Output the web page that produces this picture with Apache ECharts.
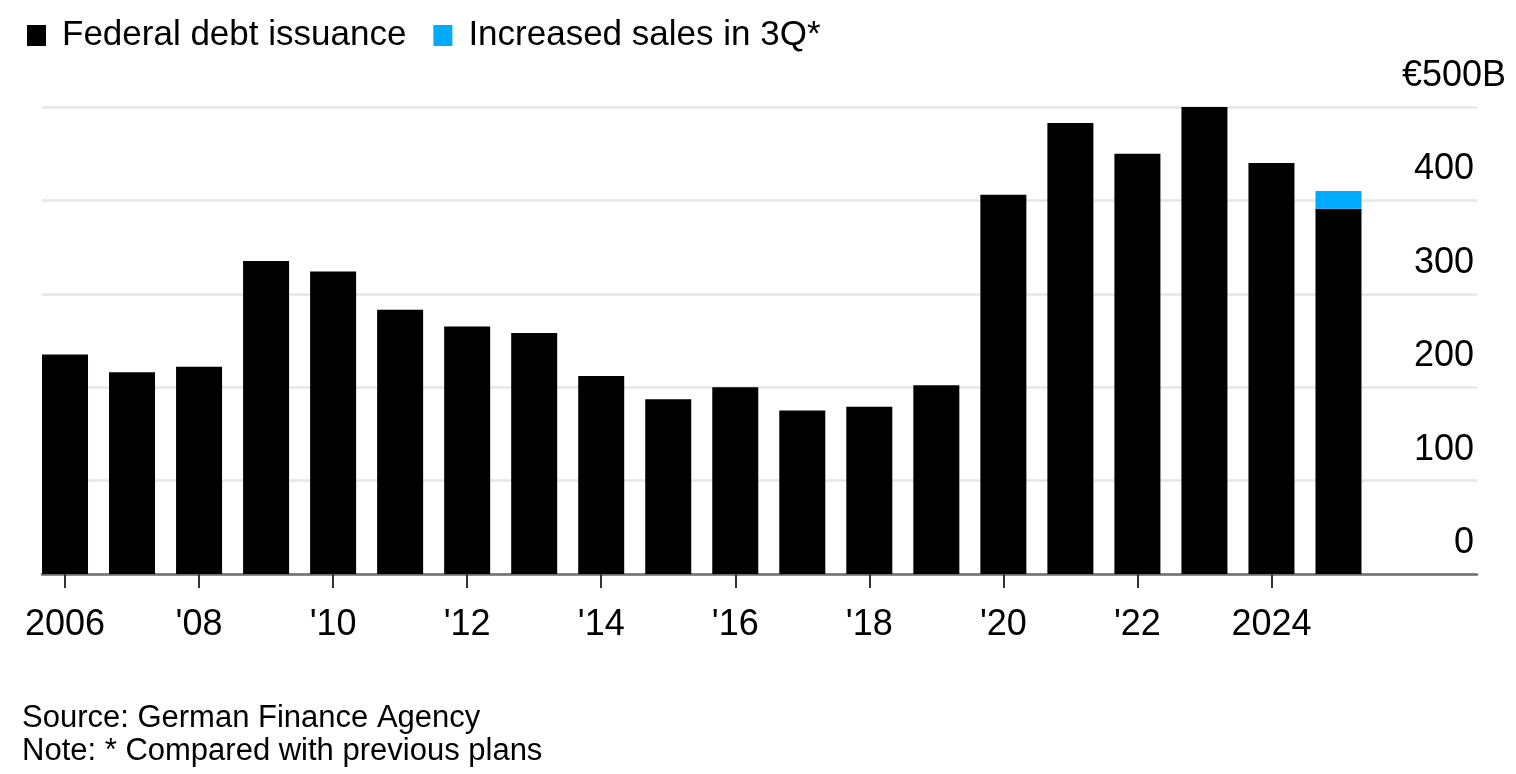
<!DOCTYPE html>
<html>
<head>
<meta charset="utf-8">
<script src="https://cdn.jsdelivr.net/npm/echarts@6/dist/echarts.min.js"></script>
<style>
html,body{margin:0;padding:0;background:#fff;}
#chart{width:1516px;height:774px;}
</style>
</head>
<body>
<div id="chart"></div>
<script>
const years = ['2006','2007','2008','2009','2010','2011','2012','2013','2014','2015','2016','2017','2018','2019','2020','2021','2022','2023','2024','2025'];
const tickLabels = {'2006':'2006','2008':"'08",'2010':"'10",'2012':"'12",'2014':"'14",'2016':"'16",'2018':"'18",'2020':"'20",'2022':"'22",'2024':'2024'};
const issuance = [235,216,222,335,324,283,265,258,212,187,200,175,179,202,406,483,450,501,440,391];
const increase3Q = [null,null,null,null,null,null,null,null,null,null,null,null,null,null,null,null,null,null,null,19];

const FONT = 'Liberation Sans, Arial, sans-serif';
const chart = echarts.init(document.getElementById('chart'));
chart.setOption({
  animation: false,
  backgroundColor: '#fff',
  textStyle: { fontFamily: FONT, color: '#000' },
  legend: {
    left: 22, top: 13,
    itemWidth: 19, itemHeight: 21, itemGap: 27,
    icon: 'rect',
    textStyle: { fontSize: 35, color: '#000', fontFamily: FONT, padding: [0, 0, 0, 11] },
    data: ['Federal debt issuance', 'Increased sales in 3Q*']
  },
  title: {
    text: 'Source: German Finance Agency\nNote: * Compared with previous plans',
    left: 17, top: 697,
    textStyle: { fontSize: 31, fontWeight: 'normal', color: '#000', lineHeight: 33, fontFamily: FONT }
  },
  grid: [
    { left: 31.5, right: 144, top: 107, bottom: 200 },
    { left: 42, right: 39, top: 107, bottom: 200 }
  ],
  xAxis: [
    {
      type: 'category', gridIndex: 0, data: years,
      axisLine: { show: false },
      axisTick: { show: true, alignWithLabel: true, interval: 1, length: 14, lineStyle: { color: '#333', width: 2 } },
      axisLabel: {
        interval: 1, margin: 33, fontSize: 36, color: '#000', fontFamily: FONT,
        formatter: v => tickLabels[v] || ''
      },
      splitLine: { show: false }
    },
    {
      type: 'value', gridIndex: 1, min: 0, max: 1,
      axisLine: { show: true, lineStyle: { color: '#6e6e6e', width: 2.5 } },
      axisTick: { show: false }, axisLabel: { show: false }, splitLine: { show: false }
    }
  ],
  yAxis: [
    {
      type: 'value', gridIndex: 0, min: 0, max: 500, interval: 100,
      show: false
    },
    {
      type: 'value', gridIndex: 1, min: 0, max: 500, interval: 100, position: 'right',
      axisLine: { show: false }, axisTick: { show: false },
      splitLine: { show: true, lineStyle: { color: '#e6e6e6', width: 2.5 } },
      axisLabel: {
        margin: 29, align: 'right', verticalAlign: 'bottom',
        fontSize: 36, color: '#000', fontFamily: FONT,
        formatter: v => v === 500 ? '{t|€500B}' : '{n|' + v + '}',
        rich: {
          t: { fontSize: 36, fontFamily: FONT, color: '#000', padding: [0, 0, 13, 0] },
          n: { fontSize: 36, fontFamily: FONT, color: '#000', padding: [0, 32, 13, 0] }
        }
      }
    }
  ],
  series: [
    {
      name: 'Federal debt issuance', type: 'bar', stack: 'total',
      xAxisIndex: 0, yAxisIndex: 0, data: issuance,
      barWidth: 46, itemStyle: { color: '#000' }
    },
    {
      name: 'Increased sales in 3Q*', type: 'bar', stack: 'total',
      xAxisIndex: 0, yAxisIndex: 0, data: increase3Q,
      barWidth: 46, itemStyle: { color: '#00aaff' }
    }
  ]
});
</script>
</body>
</html>
